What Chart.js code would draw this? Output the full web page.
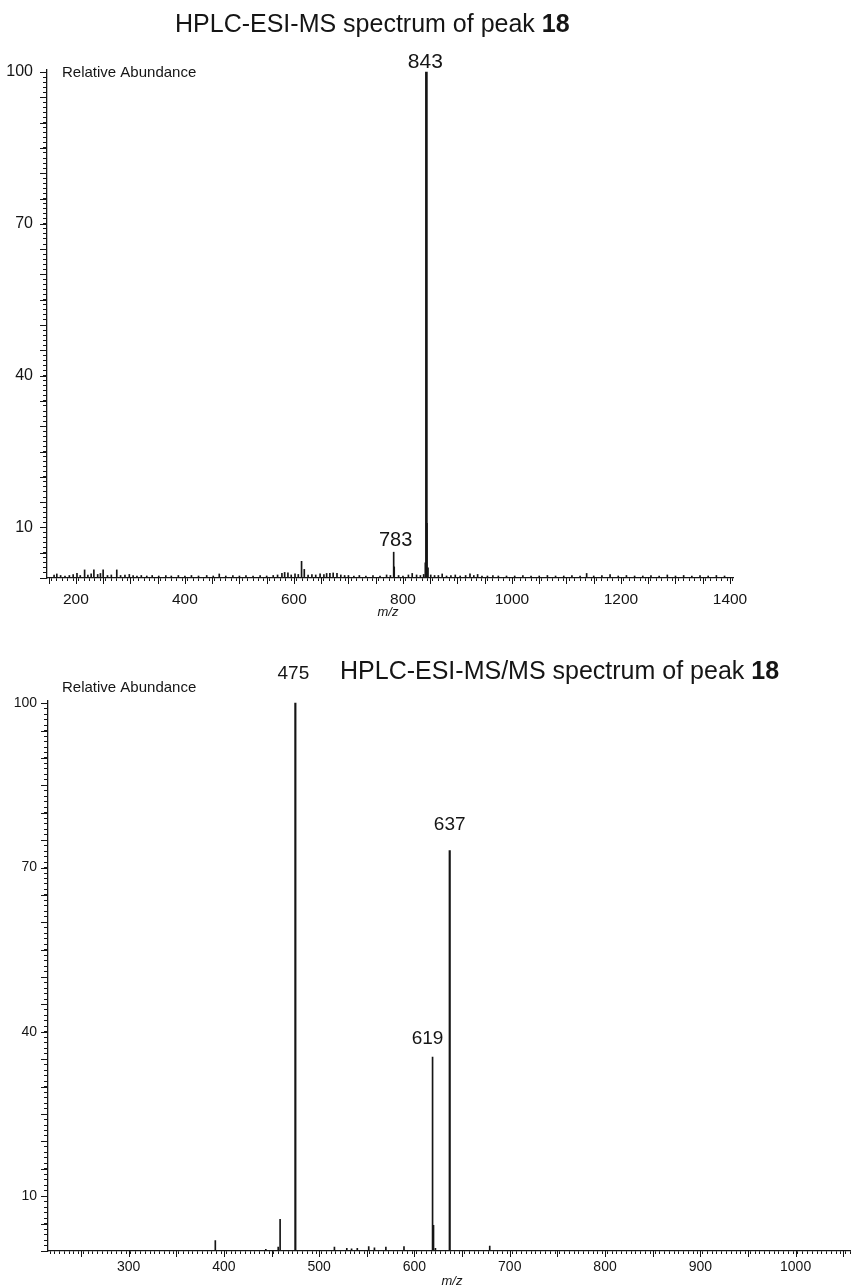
<!DOCTYPE html>
<html><head><meta charset="utf-8">
<script src="https://cdn.jsdelivr.net/npm/chart.js@4.4.1/dist/chart.umd.min.js"></script>
<style>html,body{margin:0;padding:0;background:#fff;}canvas{display:block}</style>
</head><body>
<canvas id="c1" width="853" height="620"></canvas>
<canvas id="c2" width="853" height="666"></canvas>
<script>
// ---------- DATA ----------
// Top: HPLC-ESI-MS spectrum (m/z, relative abundance)
const msMz = [160,165,172,180,188,195,202,208,216,222,228,233,240,245,250,258,265,275,282,290,298,305,312,320,330,340,352,365,375,388,400,412,425,440,452,463,475,488,500,512,525,538,550,562,570,578,583,589,595,602,608,614,619,626,633,640,648,655,660,666,672,679,686,693,700,710,720,732,745,758,770,777,783,784,792,800,810,817,825,832,838,841,843,844,846,851,858,865,872,880,888,896,905,915,923,930,937,945,955,965,975,990,1005,1020,1035,1050,1065,1080,1095,1110,1125,1137,1150,1165,1180,1195,1210,1225,1240,1255,1270,1285,1300,1315,1330,1345,1360,1375,1390];
const msAbund = [0.6,0.8,0.5,0.4,0.5,0.7,0.9,0.5,1.6,0.6,0.8,1.6,0.7,0.9,1.6,0.5,0.6,1.6,0.5,0.6,0.7,0.5,0.4,0.5,0.4,0.5,0.4,0.5,0.4,0.5,0.4,0.5,0.4,0.5,0.4,0.8,0.4,0.5,0.4,0.5,0.4,0.5,0.4,0.5,0.6,0.9,1.1,1.0,0.6,0.8,0.7,3.3,1.7,0.6,0.7,0.6,0.8,0.7,0.9,0.9,1.0,0.9,0.6,0.5,0.5,0.4,0.5,0.4,0.5,0.4,0.6,0.5,5.1,2.2,0.5,0.4,0.6,0.9,0.6,0.5,0.7,3.0,100,10.8,2.0,0.6,0.5,0.5,0.8,0.4,0.5,0.6,0.4,0.5,0.8,0.5,0.7,0.4,0.4,0.5,0.4,0.4,0.4,0.5,0.4,0.4,0.5,0.4,0.4,0.5,0.4,0.9,0.4,0.5,0.7,0.4,0.5,0.4,0.4,0.5,0.4,0.6,0.4,0.5,0.4,0.5,0.4,0.5,0.4];
const msLabels = ['843','783'];
const msLabelMz = [843,783];

// Bottom: HPLC-ESI-MS/MS spectrum
const msmsMz = [391,444,457,459,475,516,529,534,540,552,558,570,589,619,620,622,637,679];
const msmsAbund = [1.9,0.3,0.7,5.8,100,0.7,0.5,0.4,0.5,0.8,0.6,0.7,0.8,35.4,4.7,0.5,73.1,0.9];
const msmsLabels = ['475','619','637'];
const msmsLabelMz = [475,619,637];

const yLabelValues = [10,40,70,100];

// ---------- RENDER ----------
const FONT = '"Liberation Sans", Arial, Helvetica, sans-serif';
const INK = '#151515';

function makeChart(id, o) {
  const pts = o.mz.map((m,i)=>({x:m, y:o.ab[i]}));
  const big = pts.filter(p=>p.y>=50);
  const small = pts.filter(p=>p.y<50);
  const plug = {
    id:'extras',
    afterDraw(chart){
      const ctx = chart.ctx, xs = chart.scales.x, ys = chart.scales.y, ca = chart.chartArea;
      ctx.save();
      ctx.strokeStyle = INK; ctx.lineWidth = 1;
      for (let v = Math.ceil(o.xmin/50)*50; v <= o.xmax; v += 50) {
        const px = Math.round(xs.getPixelForValue(v))+0.5;
        ctx.beginPath(); ctx.moveTo(px, ca.bottom); ctx.lineTo(px, ca.bottom+6); ctx.stroke();
      }
      for (let v = 0; v <= 100; v += 5) {
        const py = Math.round(ys.getPixelForValue(v))+0.5;
        ctx.beginPath(); ctx.moveTo(ca.left, py); ctx.lineTo(ca.left-7, py); ctx.stroke();
      }
      ctx.fillStyle = INK;
      ctx.textBaseline = 'middle'; ctx.textAlign = 'left';
      ctx.font = '25px ' + FONT;
      ctx.fillText(o.title, o.titleX, o.titleY);
      const w = ctx.measureText(o.title).width;
      ctx.font = 'bold 25px ' + FONT;
      ctx.fillText('18', o.titleX + w, o.titleY);
      ctx.font = '15px ' + FONT;
      ctx.fillText('Relative Abundance', 62, o.raY);
      ctx.font = 'italic 13px ' + FONT;
      ctx.textAlign = 'center';
      ctx.fillText('m/z', o.mzX, o.mzY);
      o.labels.forEach((t,i)=>{
        const m = o.labelMz[i];
        const h = o.ab[o.mz.indexOf(m)];
        ctx.font = o.labelFont[i] + 'px ' + FONT;
        ctx.fillText(t, xs.getPixelForValue(m) + o.labelDx[i], ys.getPixelForValue(h) - o.labelDy[i]);
      });
      ctx.restore();
    }
  };
  return new Chart(document.getElementById(id), {
    type:'bar',
    data:{datasets:[
      {data:small, backgroundColor:INK, barThickness:o.thinW, grouped:false},
      {data:big, backgroundColor:INK, barThickness:o.bigW, grouped:false}
    ]},
    options:{
      responsive:false, animation:false,
      layout:{padding:{top:o.padTop, right:o.padRight, left:0, bottom:0}},
      plugins:{legend:{display:false}, tooltip:{enabled:false}},
      scales:{
        x:{type:'linear', min:o.xmin, max:o.xmax, offset:false,
          afterBuildTicks(s){ const t=[]; for(let v=Math.ceil(o.xmin/o.xstep)*o.xstep; v<=o.xmax; v+=o.xstep) t.push({value:v}); s.ticks=t; },
          afterFit(s){ s.height = o.xh; },
          ticks:{autoSkip:false, maxRotation:0, padding:o.xpad, color:INK, font:{family:FONT, size:o.xfs},
            callback:(v)=> (v % o.xlab === 0 ? String(v) : '')},
          grid:{drawOnChartArea:false, drawTicks:true, tickLength:3, tickColor:INK, tickWidth:1},
          border:{display:true, color:INK, width:1.3}},
        y:{type:'linear', min:0, max:100.4,
          afterBuildTicks(s){ const t=[]; for(let v=0; v<=100; v+=1) t.push({value:v}); s.ticks=t; },
          afterFit(s){ s.width = o.yw; },
          ticks:{autoSkip:false, padding:o.ypad, color:INK, font:{family:FONT, size:o.yfs},
            callback:(v)=> (yLabelValues.includes(v) ? String(v) : '')},
          grid:{drawOnChartArea:false, drawTicks:true, tickLength:4, tickColor:INK, tickWidth:1},
          border:{display:true, color:INK, width:1.3}}
      }
    },
    plugins:[plug]
  });
}

makeChart('c1', {
  mz:msMz, ab:msAbund, xmin:147, xmax:1405.5, xstep:10, xlab:200,
  padTop:70, padRight:120, xh:42, yw:47, xpad:9, ypad:10, xfs:15.5, yfs:16, thinW:1, bigW:2,
  title:'HPLC-ESI-MS spectrum of peak ', titleX:175, titleY:25, raY:73, mzX:388, mzY:612,
  labels:msLabels, labelMz:msLabelMz, labelDx:[-1,2], labelDy:[10,12], labelFont:[21,20]
});
makeChart('c2', {
  mz:msmsMz, ab:msmsAbund, xmin:215.4, xmax:1057.5, xstep:5, xlab:100,
  padTop:81, padRight:0, xh:35, yw:48, xpad:5, ypad:7, xfs:14, yfs:14, thinW:1, bigW:1.5,
  title:'HPLC-ESI-MS/MS spectrum of peak ', titleX:340, titleY:52, raY:68, mzX:452, mzY:661,
  labels:msmsLabels, labelMz:msmsLabelMz, labelDx:[-2,-5,0], labelDy:[29,18,26], labelFont:[19,19,19]
});
</script>
</body></html>
